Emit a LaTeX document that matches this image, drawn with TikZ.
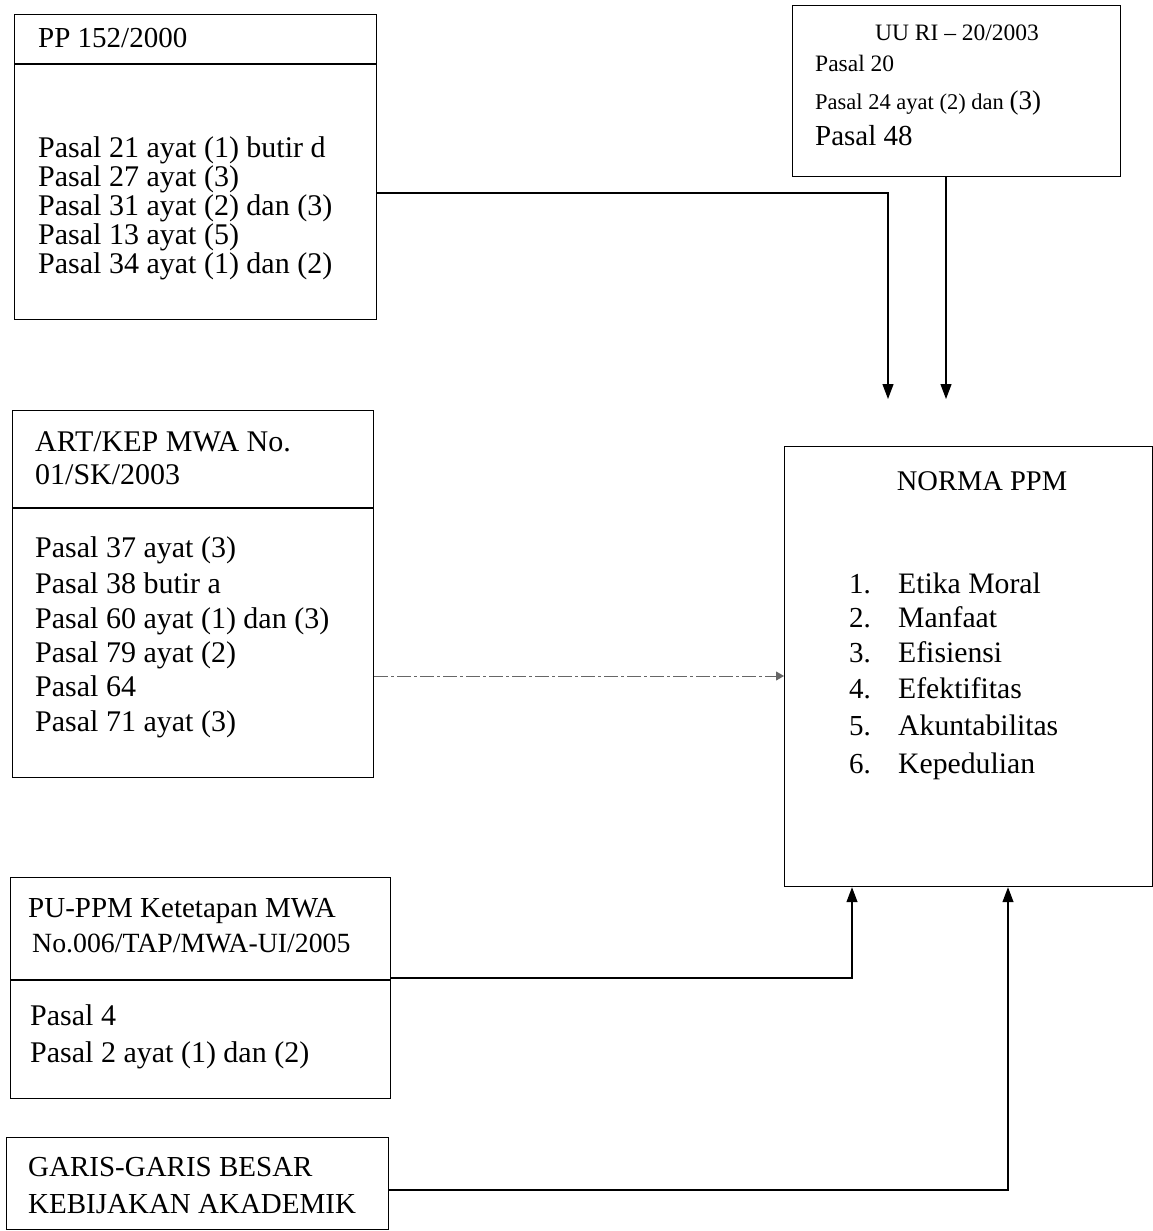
\documentclass[tikz,border=0pt]{standalone}
\usepackage{fontspec}
\setmainfont{Liberation Serif}
\usetikzlibrary{arrows.meta,calc}
\begin{document}
\begin{tikzpicture}[x=1pt,y=1pt,
  box/.style={draw, line width=1.2pt, inner sep=0pt, anchor=north west},
  txt/.style={anchor=base west, inner sep=0pt, font=\fontsize{30}{32}\selectfont},
  mid/.style={anchor=base west, inner sep=0pt, font=\fontsize{29}{32}\selectfont},
  small/.style={anchor=base west, inner sep=0pt, font=\fontsize{23.5}{26}\selectfont},
  conn/.style={line width=1.2pt, -{Triangle[width=11pt,length=15pt]}},
  dconn/.style={line width=0.9pt, black!60, dash pattern=on 14pt off 3pt on 3pt off 3pt, -{Triangle[width=9pt,length=8pt]}},
]
\useasboundingbox (0,0) rectangle (1153,-1231);
\fill[white] (0,0) rectangle (1153,-1231);

% boxes
\node[box, minimum width=362pt, minimum height=305pt] (b1) at (14,-14) {};
\node[box, minimum width=361pt, minimum height=367pt] (b2) at (12,-410) {};
\node[box, minimum width=380pt, minimum height=221pt] (b3) at (10,-877) {};
\node[box, minimum width=382pt, minimum height=92pt] (b4) at (6,-1137) {};
\node[box, minimum width=328pt, minimum height=171pt] (uu) at (792,-5) {};
\node[box, minimum width=368pt, minimum height=440pt] (norma) at (784,-446) {};

% dividers
\draw[line width=1.2pt] (b1.west |- 0,-64) -- (b1.east |- 0,-64);
\draw[line width=1.2pt] (b2.west |- 0,-508) -- (b2.east |- 0,-508);
\draw[line width=1.2pt] (b3.west |- 0,-980) -- (b3.east |- 0,-980);

% box 1 text
\node[mid] (h1) at (38,-48) {PP 152/2000};
\foreach \y/\t in {157/Pasal 21 ayat (1) butir d, 186/Pasal 27 ayat (3), 215/Pasal 31 ayat (2) dan (3), 244/Pasal 13 ayat (5), 273/Pasal 34 ayat (1) dan (2)}
  \node[txt] (p1-\y) at (38,-\y) {\t};

% box 2 text
\node[txt] (h2a) at (35,-451) {ART/KEP MWA No.};
\node[txt] (h2b) at (35,-484) {01/SK/2003};
\foreach \y/\t in {557/Pasal 37 ayat (3), 593/Pasal 38 butir a, 628/Pasal 60 ayat (1) dan (3), 662/Pasal 79 ayat (2), 696/Pasal 64, 731/Pasal 71 ayat (3)}
  \node[txt] (p2-\y) at (35,-\y) {\t};

% box 3 text
\node[mid] (h3a) at (28,-917) {PU-PPM Ketetapan MWA};
\node[txt, font=\fontsize{27.8}{30}\selectfont] (h3b) at (32,-952) {No.006/TAP/MWA-UI/2005};
\node[txt] (p3a) at (30,-1025) {Pasal 4};
\node[txt] (p3b) at (30,-1062) {Pasal 2 ayat (1) dan (2)};

% box 4 text
\node[mid] (h4a) at (28,-1176) {GARIS-GARIS BESAR};
\node[mid] (h4b) at (28,-1213) {KEBIJAKAN AKADEMIK};

% UU box text
\node[small, anchor=base] (uut) at (957,-41) {UU RI -- 20/2003};
\node[small] (uu1) at (815,-71) {Pasal 20};
\node[small, font=\fontsize{22.5}{26}\selectfont] (uu2) at (815,-109) {Pasal 24 ayat (2) dan {\fontsize{27}{30}\selectfont(3)}};
\node[mid] (uu3) at (815,-145) {Pasal 48};

% NORMA text
\node[mid, font=\fontsize{28.5}{32}\selectfont, anchor=base] (nt) at (982,-490) {NORMA PPM};
\foreach \y/\n/\t in {593/1./Etika Moral, 627/2./Manfaat, 662/3./Efisiensi, 698/4./Efektifitas, 735/5./Akuntabilitas, 773/6./Kepedulian}{
  \node[mid] (nn-\y) at (849,-\y) {\n};
  \node[txt, font=\fontsize{29.7}{32}\selectfont] (nx-\y) at (898,-\y) {\t};
}

% free ends
\coordinate (e1) at (888,-399);
\coordinate (e2) at (946,-399);

% connectors
\draw[conn] (b1.east |- 0,-193) -| (e1);
\draw[conn] (uu.south -| e2) -- (e2);
\draw[dconn] (b2.east |- 0,-676) -- (norma.west |- 0,-676);
\draw[conn] (b3.east |- 0,-978) -| ($(norma.south west)+(68,0)$);
\draw[conn] (b4.east |- 0,-1190) -| ($(norma.south west)+(224,0)$);
\end{tikzpicture}
\end{document}
